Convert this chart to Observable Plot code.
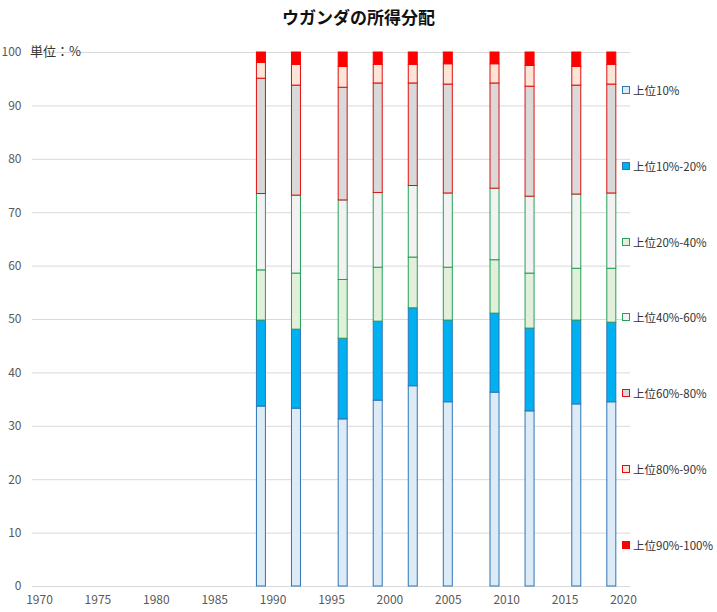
<!DOCTYPE html>
<html><head><meta charset="utf-8">
<script src="https://cdn.jsdelivr.net/npm/d3@7"></script>
<script src="https://cdn.jsdelivr.net/npm/@observablehq/plot@0.6"></script>
<style>
body{margin:0;background:#fff;}
#wrap{position:relative;width:717px;height:612px;font-family:"Noto Sans CJK JP","Noto Sans",sans-serif;}
#title{position:absolute;left:0;top:4px;width:717px;text-align:center;font-size:17px;font-weight:bold;color:#111;}
#unit{position:absolute;left:30px;top:41px;font-size:13px;color:#333;}
#legend{position:absolute;left:622px;top:0;font-size:11.5px;color:#333;}
.li{position:absolute;left:0;white-space:nowrap;display:flex;align-items:center;}
.sw{width:6px;height:6px;border:1px solid;margin-right:3px;}
svg{position:absolute;left:0;top:0;}
</style></head><body>
<div id="wrap"><div id="chart"></div><div id="title">ウガンダの所得分配</div><div id="unit">単位：%</div><div id="legend"></div></div>
<script>
const years = [1989,1992,1996,1999,2002,2005,2009,2012,2016,2019];
const seriesNames = ["上位10%","上位10%-20%","上位20%-40%","上位40%-60%","上位60%-80%","上位80%-90%","上位90%-100%"];
const top10    = [33.7,33.3,31.3,34.8,37.5,34.5,36.3,32.8,34.1,34.5];
const top10_20 = [16.1,14.8,15.1,14.8,14.6,15.3,14.8,15.5,15.7,14.9];
const top20_40 = [9.4,10.5,11.0,10.1,9.5,9.9,10.0,10.3,9.7,10.1];
const top40_60 = [14.3,14.6,14.9,14.0,13.4,13.9,13.4,14.4,13.9,14.1];
const top60_80 = [21.6,20.6,21.1,20.5,19.2,20.4,19.7,20.6,20.4,20.4];
const top80_90 = [2.95,3.9,3.9,3.5,3.5,3.8,3.6,3.9,3.5,3.7];
const top90_100= [1.95,2.3,2.7,2.3,2.3,2.2,2.2,2.5,2.7,2.3];
const yTicks = [0,10,20,30,40,50,60,70,80,90,100];
const xTicks = [1970,1975,1980,1985,1990,1995,2000,2005,2010,2015,2020];

const fills   = ["#DDEBF7","#00B0F0","#E2EFDA","#F2F2F2","#D9D9D9","#FCE4D6","#FF0000"];
const strokes = ["#2E75B6","#2E75B6","#24A157","#24A157","#E01010","#E01010","#FF0000"];

const seriesValues = [top10,top10_20,top20_40,top40_60,top60_80,top80_90,top90_100];
const data = [];
seriesNames.forEach((s,i)=>years.forEach((y,j)=>data.push({year:y, series:s, value:seriesValues[i][j]})));

const halfW = 0.385;
const chart = Plot.plot({
  width:717, height:612,
  marginLeft:32, marginRight:87, marginTop:52, marginBottom:26,
  style:{fontFamily:'"Noto Sans CJK JP","Noto Sans",sans-serif', fontSize:"12px", color:"#595959", background:"transparent"},
  x:{domain:[1969.4,2020.6], ticks:xTicks, tickFormat:d=>String(d), tickSize:0, tickPadding:9, label:null},
  y:{domain:[0,100], ticks:yTicks, tickSize:0, tickPadding:11, label:null},
  color:{domain:seriesNames, range:fills},
  marks:[
    Plot.ruleY(yTicks, {stroke:"#D9D9D9", strokeWidth:1}),
    Plot.rectY(data, Plot.stackY({
      x1:d=>d.year-halfW, x2:d=>d.year+halfW, y:"value", z:"series",
      order:seriesNames,
      fill:"series",
      stroke:d=>strokes[seriesNames.indexOf(d.series)],
      strokeWidth:1
    }))
  ]
});
document.getElementById("chart").appendChild(chart);

const legY = [91,167,243,318,394,470,546];
const leg = document.getElementById("legend");
seriesNames.forEach((s,i)=>{
  const el = document.createElement("div");
  el.className="li";
  el.style.top = (legY[i]-9)+"px";
  el.innerHTML = `<span class="sw" style="background:${fills[i]};border-color:${strokes[i]}"></span><span>${s}</span>`;
  leg.appendChild(el);
});
</script>
</body></html>
